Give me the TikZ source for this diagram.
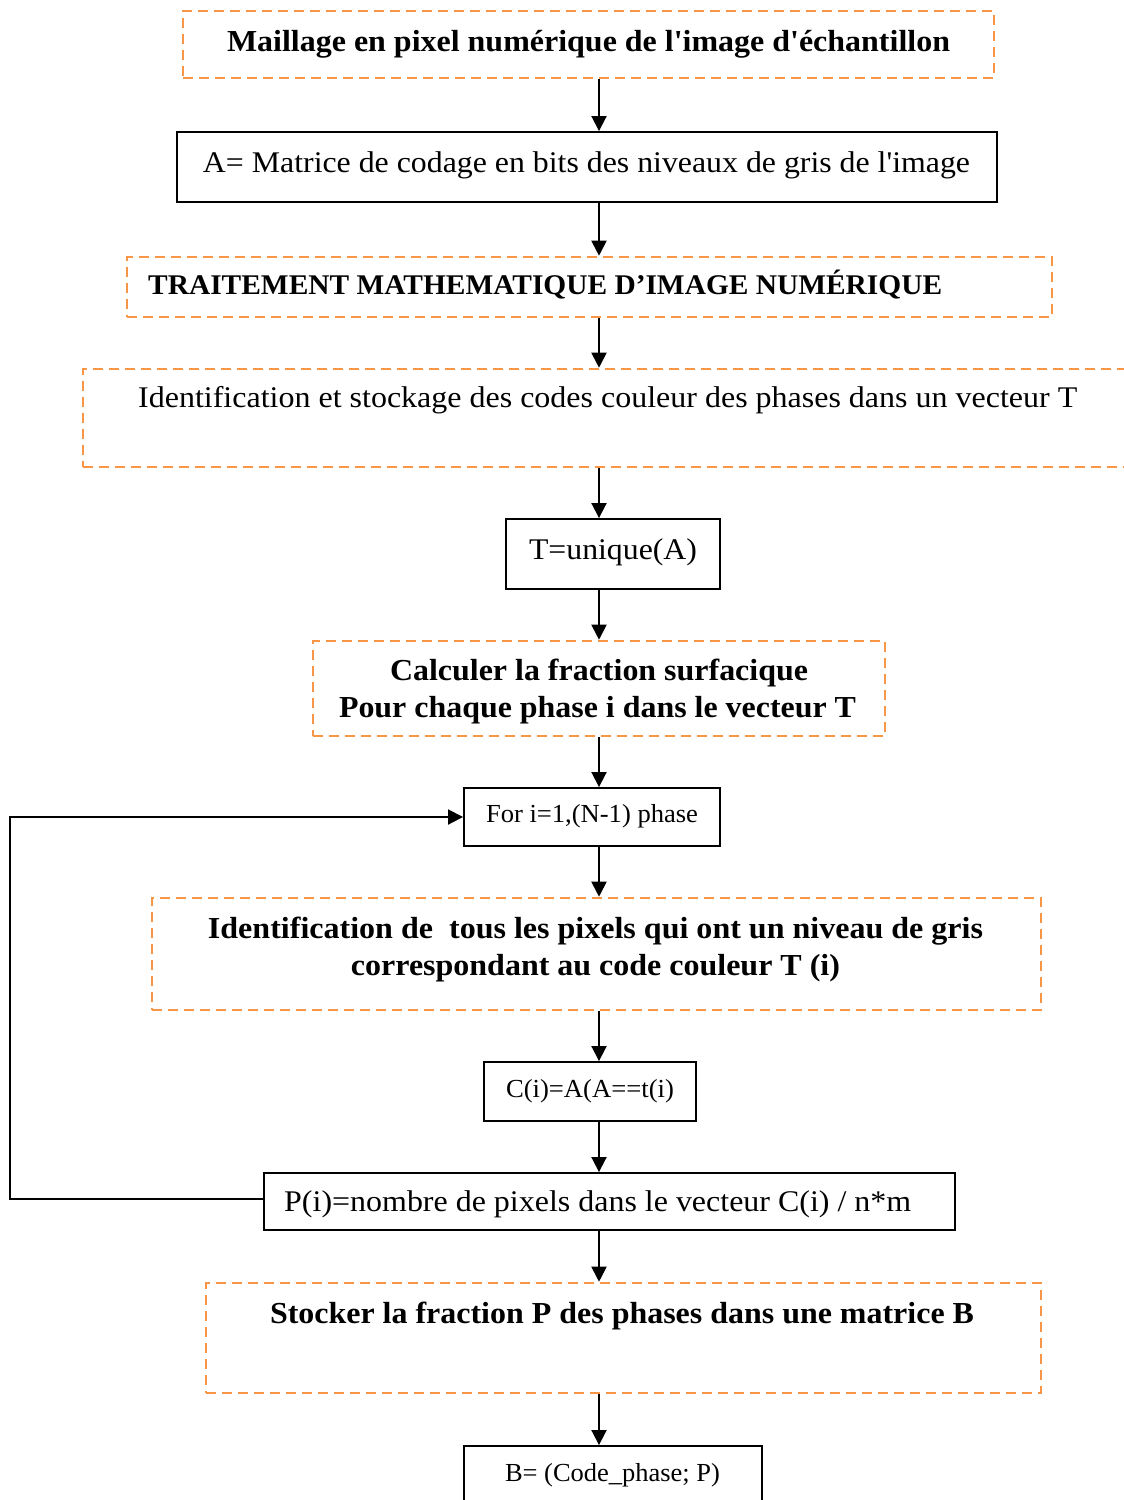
\documentclass[tikz,border=0pt]{standalone}
\usepackage{fontspec}
\usepackage{graphicx}
\setmainfont{Liberation Serif}
\usetikzlibrary{arrows.meta}
\definecolor{orng}{RGB}{247,150,70}
\newcommand{\fitw}[2]{\resizebox{#1pt}{\height}{#2}}
\begin{document}
\begin{tikzpicture}[x=1pt,y=-1pt,
  dbox/.style={draw=orng,line width=2.6pt,dash pattern=on 10pt off 6pt,rectangle,inner sep=0pt},
  sbox/.style={draw=black,line width=1.9pt,rectangle,inner sep=0pt},
  arr/.style={line width=1.9pt,-{Triangle[length=15pt,width=15pt]}},
  big/.style={anchor=base,inner sep=0pt,font=\fontsize{30}{36}\selectfont},
  bigb/.style={anchor=base,inner sep=0pt,font=\bfseries\fontsize{30.5}{36}\selectfont},
  small/.style={anchor=base,inner sep=0pt,font=\fontsize{26}{31}\selectfont}
]
\useasboundingbox (0,0) rectangle (1124,1500);
% boxes
\node[dbox,minimum width=811pt,minimum height=67pt] (b1) at (588.5,44.5) {};
\node[sbox,minimum width=820pt,minimum height=70pt] (b2) at (587,167) {};
\node[dbox,minimum width=925pt,minimum height=60pt] (b3) at (589.5,287) {};
\node[dbox,minimum width=1057pt,minimum height=98pt] (b4) at (611.5,418) {};
\node[sbox,minimum width=214pt,minimum height=70pt] (b5) at (613,554) {};
\node[dbox,minimum width=572pt,minimum height=95pt] (b6) at (599,688.5) {};
\node[sbox,minimum width=256pt,minimum height=58pt] (b7) at (592,817) {};
\node[dbox,minimum width=889pt,minimum height=112pt] (b8) at (596.5,954) {};
\node[sbox,minimum width=212pt,minimum height=59pt] (b9) at (590,1091.5) {};
\node[sbox,minimum width=691pt,minimum height=57pt] (b10) at (609.5,1201.5) {};
\node[dbox,minimum width=835pt,minimum height=110pt] (b11) at (623.5,1338) {};
\node[sbox,minimum width=298pt,minimum height=64pt] (b12) at (613,1478) {};
% texts
\node[bigb] (t1) at (588.5,51) {\fitw{723}{Maillage en pixel numérique de l\textquotesingle image d\textquotesingle échantillon}};
\node[big] (t2) at (586.5,172) {\fitw{767}{A= Matrice de codage en bits des niveaux de gris de l\textquotesingle image}};
\node[bigb,anchor=base west,font=\bfseries\fontsize{28.5}{34}\selectfont] (t3) at (148,294) {\fitw{794}{TRAITEMENT MATHEMATIQUE D’IMAGE NUMÉRIQUE}};
\node[big,anchor=base west] (t4) at (138,407) {\fitw{939}{Identification et stockage des codes couleur des phases dans un vecteur T}};
\node[big] (t5) at (613,559) {\fitw{168}{T=unique(A)}};
\node[bigb] (t6a) at (599,680) {\fitw{418}{Calculer la fraction surfacique}};
\node[bigb] (t6b) at (597.5,717) {\fitw{517}{Pour chaque phase i dans le vecteur T}};
\node[small] (t7) at (592,822) {\fitw{212}{For i=1,(N-1) phase}};
\node[bigb] (t8a) at (595.5,938) {\fitw{775}{Identification de\ \ tous les pixels qui ont un niveau de gris}};
\node[bigb] (t8b) at (595.5,975) {\fitw{489}{correspondant au code couleur T (i)}};
\node[small] (t9) at (590,1097) {\fitw{168}{C(i)=A(A==t(i)}};
\node[big,anchor=base west] (t10) at (284,1211) {\fitw{627}{P(i)=nombre de pixels dans le vecteur C(i) / n*m}};
\node[bigb] (t11) at (622,1323) {\fitw{704}{Stocker la fraction P des phases dans une matrice B}};
\node[small] (t12) at (612.5,1481) {\fitw{215}{B= (Code\_phase; P)}};
% connectors
\coordinate (ax) at (599,0);
\coordinate (lp) at (10,0);
\coordinate (ly) at (0,1199);
\draw[arr] (b1.south -| ax) -- (b2.north -| ax);
\draw[arr] (b2.south -| ax) -- (b3.north -| ax);
\draw[arr] (b3.south -| ax) -- (b4.north -| ax);
\draw[arr] (b4.south -| ax) -- (b5.north -| ax);
\draw[arr] (b5.south -| ax) -- (b6.north -| ax);
\draw[arr] (b6.south -| ax) -- (b7.north -| ax);
\draw[arr] (b7.south -| ax) -- (b8.north -| ax);
\draw[arr] (b8.south -| ax) -- (b9.north -| ax);
\draw[arr] (b9.south -| ax) -- (b10.north -| ax);
\draw[arr] (b10.south -| ax) -- (b11.north -| ax);
\draw[arr] (b11.south -| ax) -- (b12.north -| ax);
\draw[arr] (b10.west |- ly) -- (lp |- ly) -- (b7.west -| lp) -- (b7.west);
\end{tikzpicture}
\end{document}
